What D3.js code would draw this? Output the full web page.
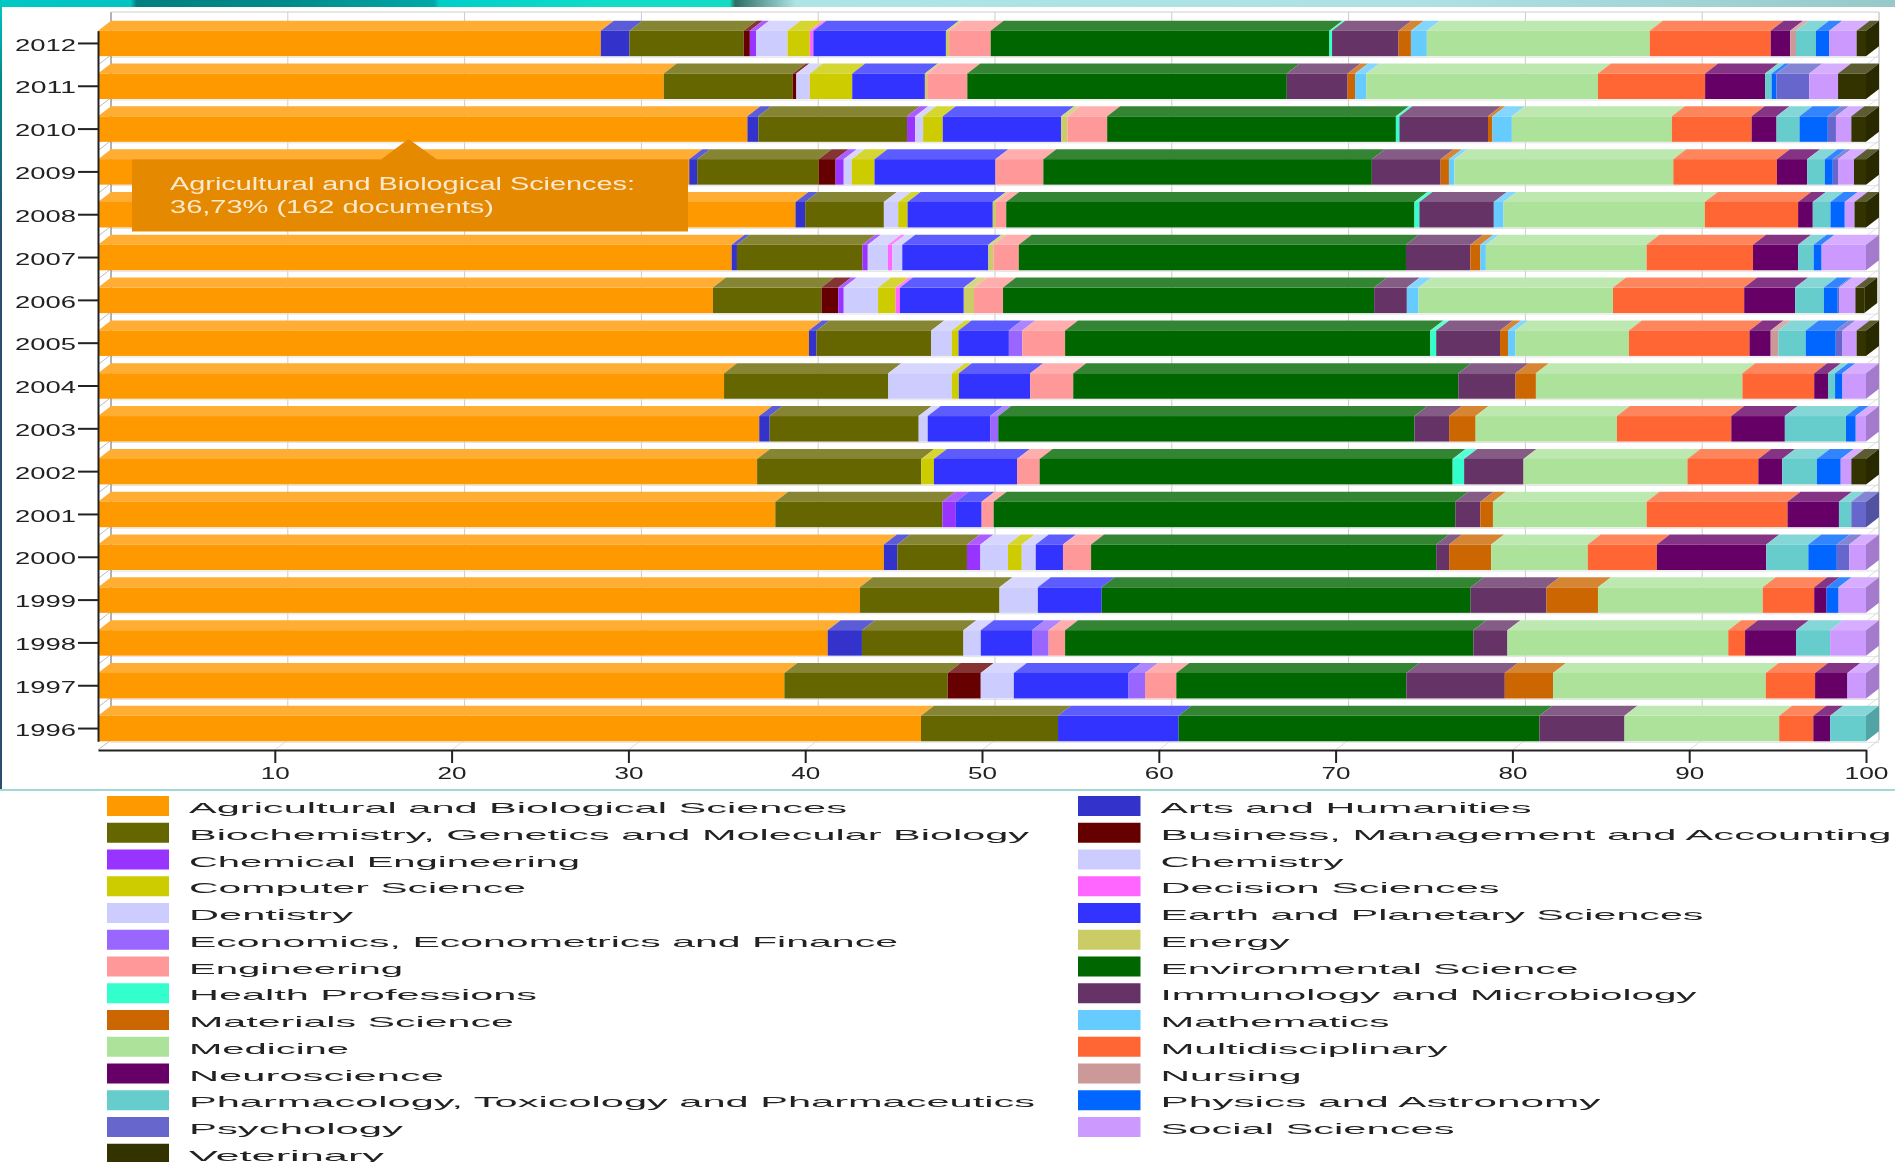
<!DOCTYPE html>
<html>
    <head>
        <meta charset="utf-8">
        <title>Documents by subject area, 1996-2012</title>
        <script src="https://d3js.org/d3.v7.min.js" charset="utf-8"></script>
        <style>
            html, body { margin: 0; padding: 0; background: #fff; overflow: hidden; }
            svg { display: block; font-family: "Liberation Sans", Arial, sans-serif; filter: blur(0.6px); }
        </style>
    </head>
    <body>
        <script>

            var years = ["2012","2011","2010","2009","2008","2007","2006","2005","2004","2003","2002","2001","2000","1999","1998","1997","1996"];

            var categories = [
                "Agricultural and Biological Sciences", "Arts and Humanities",
                "Biochemistry, Genetics and Molecular Biology", "Business, Management and Accounting",
                "Chemical Engineering", "Chemistry",
                "Computer Science", "Decision Sciences",
                "Dentistry", "Earth and Planetary Sciences",
                "Economics, Econometrics and Finance", "Energy",
                "Engineering", "Environmental Science",
                "Health Professions", "Immunology and Microbiology",
                "Materials Science", "Mathematics",
                "Medicine", "Multidisciplinary",
                "Neuroscience", "Nursing",
                "Pharmacology, Toxicology and Pharmaceutics", "Physics and Astronomy",
                "Psychology", "Social Sciences",
                "Veterinary"
            ];

            var colors = [
                "#FF9900", "#3333CC", "#666600", "#660000", "#9933FF", "#CCCCFF", "#CCCC00",
                "#FF66FF", "#CCCCFF", "#3333FF", "#9966FF", "#CCCC66", "#FF9999", "#006600",
                "#33FFCC", "#663366", "#CC6600", "#66CCFF", "#ADE29B", "#FF6633", "#660066",
                "#CC9999", "#66CCCC", "#0066FF", "#6666CC", "#CC99FF", "#333300"
            ];

            // percent of documents per year, same order as categories
            var y2012 = [28.44,1.62,6.46,.35,.36,1.77,1.26,.20,0,7.50,0,.18,2.35,19.16,.15,3.76,.70,.90,12.61,6.84,1.10,.33,1.13,.75,0,1.55,.53];
            var y2011 = [32.00,0,7.30,.20,0,.76,2.40,0,0,4.11,0,.13,2.27,18.07,0,3.44,.42,.63,13.11,6.06,3.39,0,.37,.28,1.85,1.63,1.58];
            var y2010 = [36.73,.62,8.41,0,.46,.45,1.11,0,0,6.70,0,.35,2.25,16.33,.20,5.01,.25,1.10,9.05,4.51,1.41,0,1.30,1.60,.46,.87,.83];
            var y2009 = [33.44,.45,6.87,.96,.46,.45,1.29,0,0,6.84,0,0,2.71,18.58,0,3.89,.47,.31,12.38,5.86,1.71,0,1.00,.45,.30,.90,.68];
            var y2008 = [39.45,.55,4.45,0,0,.81,.53,0,0,4.82,0,.18,.58,23.09,.28,4.21,0,.55,11.38,5.28,.83,0,1.00,.81,0,.55,.65];
            var y2007 = [35.84,.30,7.10,0,.30,1.14,0,.25,.56,4.87,0,.28,1.44,21.90,0,3.64,.57,.31,9.09,6.02,2.55,0,.88,.45,0,2.51,0];
            var y2006 = [34.78,0,6.14,.95,.31,1.94,.99,.25,0,3.61,0,.58,1.64,20.99,0,1.85,0,.66,11.00,7.42,2.88,0,1.63,.78,.10,.90,.50];
            var y2005 = [40.21,.43,6.49,0,0,1.16,.38,0,0,2.85,.76,0,2.42,20.66,.33,3.61,.45,.42,6.42,6.82,1.20,.43,1.55,1.70,.38,.80,.53];
            var y2004 = [35.41,0,9.29,0,0,3.59,.40,0,0,4.04,0,0,2.43,21.78,0,3.24,1.15,0,11.68,4.06,.78,0,.40,.42,0,1.33,0];
            var y2003 = [37.40,.59,8.43,0,0,.51,0,0,0,3.53,.46,0,0,23.54,0,1.96,1.50,0,7.99,6.47,3.03,0,3.46,.55,0,.58,0];
            var y2002 = [37.28,0,9.29,0,0,0,.71,0,0,4.70,0,0,1.28,23.36,.65,3.36,0,0,9.27,4.01,1.35,0,1.96,1.35,0,.60,.83];
            var y2001 = [38.31,0,9.45,0,.76,0,0,0,0,1.46,0,0,.68,26.11,0,1.42,.71,0,8.69,7.97,2.91,0,.70,0,.83,0,0];
            var y2000 = [44.45,.76,3.94,0,.76,1.56,.78,0,.79,1.54,0,0,1.59,19.52,0,.73,2.38,0,5.46,3.91,6.19,0,2.38,1.61,.70,.95,0];
            var y1999 = [43.09,0,7.90,0,0,2.17,0,0,0,3.61,0,0,0,20.87,0,4.29,2.91,0,9.32,2.91,.70,0,0,.68,0,1.55,0];
            var y1998 = [41.27,1.94,5.74,0,0,.98,0,0,0,2.90,.94,0,.93,23.09,0,1.93,0,0,12.49,.95,2.88,0,1.93,0,0,2.03,0];
            var y1997 = [38.82,0,9.24,1.87,0,1.87,0,0,0,6.49,.93,0,1.77,13.01,0,5.57,2.73,0,12.03,2.79,1.83,0,0,0,0,1.05,0];
            var y1996 = [46.55,0,7.75,0,0,0,0,0,0,6.82,0,0,0,20.41,0,4.81,0,0,8.75,1.93,.95,0,2.03,0,0,0,0];

            var xTicks = [10,20,30,40,50,60,70,80,90,100];
            var tooltipLines = ["Agricultural and Biological Sciences:", "36,73% (162 documents)"];

            var rows = [y2012,y2011,y2010,y2009,y2008,y2007,y2006,y2005,y2004,y2003,y2002,y2001,y2000,y1999,y1998,y1997,y1996];

            var table = years.map(function(year, r) {
                var row = {year: year};
                categories.forEach(function(c, i) { row[c] = rows[r][i]; });
                return row;
            });

            var series = d3.stack().keys(categories)(table);

            var width = 1895, height = 1162;
            var depthX = 13, depthY = 10;

            var xScale = d3.scaleLinear().domain([0,100]).range([98,1866]);
            var yScale = d3.scaleBand().domain(years).range([30.7,741.3]).paddingInner(0.4046);
            var axisY = 750;

            var colorScale = d3.scaleOrdinal().domain(categories).range(colors);

            function lighter(c) { return d3.interpolateRgb(c, "#fff")(0.2); }
            function darker(c) { var k = d3.rgb(c); return d3.rgb(k.r*0.8, k.g*0.8, k.b*0.8); }

            // the labels are pulled out horizontally, every one to its own length
            function stretch(sel, lengthOf) {
                sel.attr("textLength", lengthOf).attr("lengthAdjust", "spacingAndGlyphs");
            }

            var svg = d3.select("body").append("svg")
                .attr("width", width)
                .attr("height", height);

            // banner strip across the top
            var defs = svg.append("defs");
            var bannerStops = [[0,"#00c8c4"],[.069,"#00c4c0"],[.072,"#007f80"],[.15,"#008a8a"],[.229,"#00a8a8"],[.232,"#00cfc9"],[.32,"#10dcc8"],[.385,"#12dcc4"],[.388,"#2c6f66"],[.42,"#aee4e4"],[.75,"#aee2e2"],[1,"#97c9c9"]];
            var banner = defs.append("linearGradient").attr("id","banner");
            banner.selectAll("stop").data(bannerStops).join("stop")
                .attr("offset", function(d) { return d[0]; })
                .attr("stop-color", function(d) { return d[1]; });
            var edge = defs.append("linearGradient").attr("id","edge").attr("x2",0).attr("y2",1);
            edge.append("stop").attr("offset",0).attr("stop-color","#00c8c4");
            edge.append("stop").attr("offset",.1).attr("stop-color","#008a8a");
            edge.append("stop").attr("offset",.3).attr("stop-color","#2a4d70");
            edge.append("stop").attr("offset",1).attr("stop-color","#2a4d70");

            svg.append("rect").attr("width",width).attr("height",7).attr("fill","url(#banner)");
            svg.append("rect").attr("width",2).attr("height",790).attr("fill","url(#edge)");
            svg.append("rect").attr("y",789).attr("width",width).attr("height",2).attr("fill","#a3d8d8");

            // back wall grid and the sheared floor / side lines
            var grid = svg.append("g").attr("fill","none");
            var backTop = 12, backBottom = axisY - depthY;

            function barBottom(d) { return yScale(d) + yScale.bandwidth(); }

            grid.selectAll("line.v").data(xTicks).join("line")
                .attr("x1", function(d) { return xScale(d) + depthX; })
                .attr("x2", function(d) { return xScale(d) + depthX; })
                .attr("y1", backTop).attr("y2", backBottom)
                .attr("stroke","#ccc");
            grid.selectAll("line.f").data(xTicks).join("line")
                .attr("x1", function(d) { return xScale(d); })
                .attr("x2", function(d) { return xScale(d) + depthX; })
                .attr("y1", axisY).attr("y2", backBottom)
                .attr("stroke","#ddd");
            grid.selectAll("line.h").data(years).join("line")
                .attr("x1", xScale(0) + depthX).attr("x2", xScale(100) + depthX)
                .attr("y1", function(d) { return barBottom(d) + 1; })
                .attr("y2", function(d) { return barBottom(d) + 1; })
                .attr("stroke","#e2e2e2");
            grid.selectAll("line.l").data(years).join("line")
                .attr("x1", xScale(0)).attr("x2", xScale(0) + depthX)
                .attr("y1", function(d) { return barBottom(d) + 8.7; })
                .attr("y2", function(d) { return barBottom(d) + 8.7 - depthY; })
                .attr("stroke","#bbb");
            grid.selectAll("line.r").data(years).join("line")
                .attr("x1", xScale(100)).attr("x2", xScale(100) + depthX)
                .attr("y1", function(d) { return barBottom(d) + 8.7; })
                .attr("y2", function(d) { return barBottom(d) + 8.7 - depthY; })
                .attr("stroke","#ddd");
            grid.append("line")
                .attr("x1", xScale(0) + depthX).attr("x2", xScale(0) + depthX)
                .attr("y1", backTop).attr("y2", backBottom)
                .attr("stroke","#666");
            grid.append("line")
                .attr("x1", xScale(100) + depthX).attr("x2", xScale(100) + depthX)
                .attr("y1", backTop).attr("y2", backBottom)
                .attr("stroke","#ccc");
            grid.append("line")
                .attr("x1", xScale(0) + depthX).attr("x2", xScale(100) + depthX)
                .attr("y1", backTop).attr("y2", backTop)
                .attr("stroke","#ccc");

            // bars: top face, front face, and a side face on the last segment
            var layers = svg.append("g").selectAll("g").data(series).join("g");

            layers.selectAll("path.top")
                .data(function(s) {
                    return s.filter(function(d) { return d[1] > d[0]; }).map(function(d) { return {d: d, key: s.key}; });
                })
                .join("path")
                .attr("class","top")
                .attr("fill", function(p) { return lighter(colorScale(p.key)); })
                .attr("d", function(p) {
                    var x0 = xScale(p.d[0]), x1 = xScale(p.d[1]), y = yScale(p.d.data.year);
                    return "M" + x0 + "," + y + "L" + x1 + "," + y + "L" + (x1 + depthX) + "," + (y - depthY) + "L" + (x0 + depthX) + "," + (y - depthY) + "Z";
                });

            layers.selectAll("rect.front")
                .data(function(s) {
                    return s.filter(function(d) { return d[1] > d[0]; }).map(function(d) { return {d: d, key: s.key}; });
                })
                .join("rect")
                .attr("class","front")
                .attr("x", function(p) { return xScale(p.d[0]); })
                .attr("width", function(p) { return xScale(p.d[1]) - xScale(p.d[0]); })
                .attr("y", function(p) { return yScale(p.d.data.year); })
                .attr("height", yScale.bandwidth())
                .attr("fill", function(p) { return colorScale(p.key); });

            svg.append("g").selectAll("path").data(table).join("path")
                .attr("fill", function(row) {
                    var last = categories.filter(function(c) { return row[c] > 0; }).pop();
                    return darker(colorScale(last));
                })
                .attr("d", function(row) {
                    var x = xScale(d3.sum(categories, function(c) { return row[c]; }));
                    var y = yScale(row.year), h = yScale.bandwidth();
                    return "M" + x + "," + y + "L" + (x + depthX) + "," + (y - depthY) + "L" + (x + depthX) + "," + (y - depthY + h) + "L" + x + "," + (y + h) + "Z";
                });

            // axes
            var xAxis = svg.append("g")
                .attr("transform", "translate(0," + axisY + ")")
                .call(d3.axisBottom(xScale).tickValues(xTicks).tickSize(13).tickPadding(4).tickSizeOuter(0));
            var yAxis = svg.append("g")
                .attr("transform", "translate(" + xScale(0) + ",0)")
                .call(d3.axisLeft(yScale).tickSize(20).tickPadding(2).tickSizeOuter(0));

            [xAxis, yAxis].forEach(function(a) {
                a.select(".domain").attr("stroke","#222").attr("stroke-width",2);
                a.selectAll(".tick line").attr("stroke","#222").attr("stroke-width",2);
                a.selectAll(".tick text").attr("font-size",17).attr("font-family","Liberation Sans").attr("fill","#222");
            });
            stretch(xAxis.selectAll(".tick text"), function(d) { return d === 100 ? 44 : 29; });
            stretch(yAxis.selectAll(".tick text"), 61);
            yAxis.selectAll(".tick text").attr("dy","0.42em");

            // tooltip
            var tip = svg.append("g");
            tip.append("path")
                .attr("fill","#E58A00")
                .attr("d","M132,159.5L381,159.5L408.5,139L437,159.5L688,159.5L688,231.5L132,231.5Z");
            var tipText = tip.selectAll("text").data(tooltipLines).join("text")
                .attr("x",170)
                .attr("y", function(d, i) { return 190 + i*23; })
                .attr("font-size",18)
                .attr("fill","#fbe9cf")
                .text(function(d) { return d; });
            stretch(tipText, function(d, i) { return i ? 324 : 465; });

            // legend, two columns read row by row
            var legendLabelLengths = [658,371,840,731,391,183,337,339,164,543,709,129,214,418,348,536,325,229,160,287,255,141,846,440,214,294,195];
            var legendX = d3.scaleOrdinal().domain([0,1]).range([107,1078]);
            var legendY = d3.scaleLinear().domain([0,13]).range([796,1143.75]);

            var legend = svg.append("g").selectAll("g").data(categories).join("g")
                .attr("transform", function(d, i) { return "translate(" + legendX(i % 2) + "," + legendY(Math.floor(i / 2)) + ")"; });

            legend.append("rect")
                .attr("width", function(d, i) { return i % 2 ? 62.5 : 62; })
                .attr("height",20)
                .attr("fill", colorScale);

            var legendText = legend.append("text")
                .attr("x", function(d, i) { return i % 2 ? 82.5 : 82; })
                .attr("y",17)
                .attr("font-size",15)
                .attr("fill","#222")
                .text(function(d) { return d; });
            stretch(legendText, function(d, i) { return legendLabelLengths[i]; });

        </script>
    </body>
</html>
